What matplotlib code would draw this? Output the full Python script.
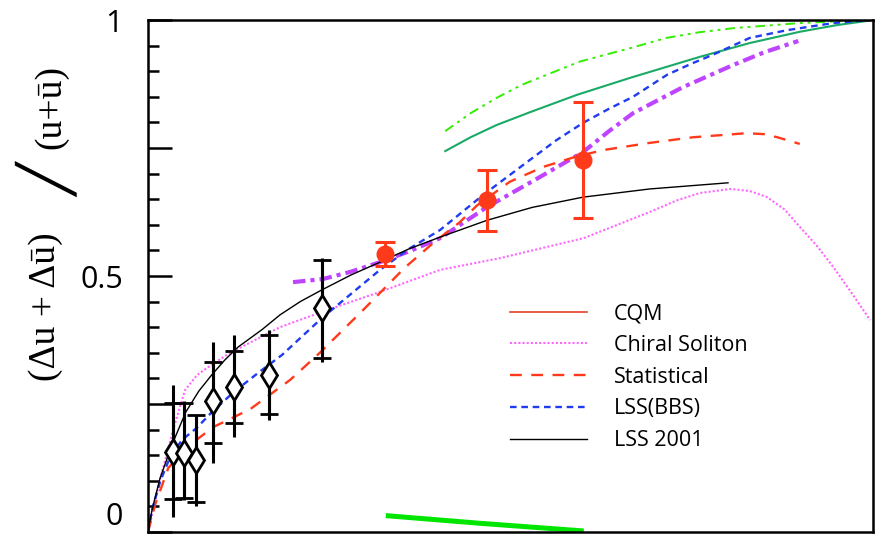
import numpy as np
import matplotlib
matplotlib.use("Agg")
import matplotlib.pyplot as plt
from matplotlib.lines import Line2D
from matplotlib.ticker import MultipleLocator

# ---- data (x in [0,1], ratio in [0,1]) ----
# HERMES-like points: value, inner (stat) error ends, outer (total) error ends
herm_x = [0.035, 0.049, 0.066, 0.089, 0.118, 0.167, 0.240]
herm_y = [0.157, 0.154, 0.141, 0.256, 0.283, 0.307, 0.4375]
herm_in_hi = [0.252, 0.252, 0.229, 0.332, 0.354, 0.385, 0.531]
herm_in_lo = [0.064, 0.066, 0.059, 0.174, 0.213, 0.230, 0.340]
herm_out_hi = [0.287, 0.256, 0.229, 0.371, 0.385, 0.395, 0.535]
herm_out_lo = [0.029, 0.062, 0.051, 0.135, 0.186, 0.219, 0.332]

# projected points
proj_x = [0.327, 0.467, 0.600]
proj_y = [0.542, 0.648, 0.727]
proj_hi = [0.567, 0.707, 0.840]
proj_lo = [0.520, 0.588, 0.613]

lss01_x = [0, 0.0055, 0.0166, 0.033, 0.052, 0.070, 0.088, 0.106, 0.124, 0.157,
           0.182, 0.210, 0.240, 0.280, 0.320, 0.360, 0.403, 0.468, 0.530, 0.600,
           0.692, 0.800]
lss01_y = [0, 0.043, 0.105, 0.170, 0.234, 0.275, 0.307, 0.336, 0.361, 0.395,
           0.424, 0.450, 0.473, 0.502, 0.527, 0.553, 0.576, 0.609, 0.634, 0.654,
           0.670, 0.682]

chiral_x = [0, 0.003, 0.0166, 0.0345, 0.051, 0.068, 0.087, 0.110, 0.134, 0.182,
            0.240, 0.320, 0.403, 0.486, 0.601, 0.692, 0.730, 0.761, 0.803, 0.830,
            0.854, 0.878, 0.899, 0.922, 0.945, 0.970, 0.996]
chiral_y = [0, 0.018, 0.102, 0.199, 0.277, 0.307, 0.326, 0.347, 0.365, 0.400,
            0.430, 0.469, 0.512, 0.535, 0.574, 0.625, 0.648, 0.662, 0.670, 0.666,
            0.654, 0.630, 0.596, 0.560, 0.518, 0.468, 0.414]

stat_x = [0, 0.0097, 0.028, 0.054, 0.090, 0.115, 0.141, 0.168, 0.196, 0.237,
          0.297, 0.354, 0.393, 0.430, 0.454, 0.499, 0.545, 0.590, 0.628, 0.692,
          0.752, 0.826, 0.850, 0.868, 0.899]
stat_y = [0, 0.053, 0.125, 0.166, 0.205, 0.222, 0.240, 0.268, 0.297, 0.350,
          0.434, 0.516, 0.564, 0.605, 0.638, 0.684, 0.713, 0.733, 0.746, 0.760,
          0.771, 0.779, 0.777, 0.771, 0.758]

bbs_x = [0, 0.0055, 0.0166, 0.030, 0.047, 0.067, 0.088, 0.118, 0.154, 0.185,
         0.240, 0.280, 0.320, 0.360, 0.403, 0.462, 0.527, 0.563, 0.600, 0.635,
         0.669, 0.716, 0.750, 0.779, 0.830, 0.881, 0.945, 0.996]
bbs_y = [0, 0.043, 0.098, 0.145, 0.180, 0.203, 0.234, 0.273, 0.313, 0.346,
         0.418, 0.465, 0.512, 0.553, 0.590, 0.658, 0.727, 0.765, 0.799, 0.826,
         0.850, 0.893, 0.915, 0.932, 0.965, 0.980, 0.994, 1.0]

green_x = [0.410, 0.445, 0.481, 0.527, 0.592, 0.665, 0.761, 0.830, 0.899, 0.950, 0.996]
green_y = [0.744, 0.771, 0.795, 0.820, 0.854, 0.887, 0.928, 0.955, 0.977, 0.990, 0.999]

lime_x = [0.410, 0.445, 0.481, 0.515, 0.550, 0.596, 0.665, 0.715, 0.760, 0.807, 0.899, 0.990]
lime_y = [0.783, 0.818, 0.848, 0.873, 0.893, 0.919, 0.945, 0.965, 0.976, 0.984, 0.994, 1.0]

purple_x = [0.200, 0.241, 0.279, 0.320, 0.360, 0.403, 0.468, 0.534, 0.600, 0.635,
            0.669, 0.738, 0.807, 0.850, 0.897]
purple_y = [0.488, 0.494, 0.508, 0.527, 0.548, 0.574, 0.635, 0.688, 0.742, 0.782,
            0.818, 0.869, 0.912, 0.937, 0.959]

bgreen_x = [0.328, 0.458, 0.601]
bgreen_y = [0.032, 0.017, 0.002]

legend_labels = ["CQM", "Chiral Soliton", "Statistical", "LSS(BBS)", "LSS 2001"]

RED = "#ff3a1a"
PINK = "#ff66ff"
BLUE = "#1f3cf0"

fig = plt.figure(figsize=(8.82, 5.35), dpi=100)
ax = fig.add_axes([148 / 882, 3 / 535, 725 / 882, 512 / 535])

ax.plot(lime_x, lime_y, color="#33ee00", lw=1.4, dashes=(5, 2.5, 1.5, 2.5, 1.5, 2.5))
ax.plot(green_x, green_y, color="#1aaa66", lw=1.5)
ax.plot(purple_x, purple_y, color="#bf44ff", lw=3.0, dashes=(3, 1.2, 1, 1.2))
ax.plot(bgreen_x, bgreen_y, color="#00e600", lw=3.6, solid_capstyle="butt")
ax.plot(chiral_x, chiral_y, color=PINK, lw=1.5, ls=(0, (1, 1)))
ax.plot(stat_x, stat_y, color=RED, lw=1.7, dashes=(5, 4))
ax.plot(bbs_x, bbs_y, color=BLUE, lw=1.7, dashes=(2.8, 2))
ax.plot(lss01_x, lss01_y, color="black", lw=1.0)

# HERMES points: outer error as bare line, inner error with caps
hy = np.array(herm_y)
ax.errorbar(herm_x, herm_y,
            yerr=[hy - np.array(herm_out_lo), np.array(herm_out_hi) - hy],
            fmt="none", ecolor="black", elinewidth=2.2, capsize=0)
ax.errorbar(herm_x, herm_y,
            yerr=[hy - np.array(herm_in_lo), np.array(herm_in_hi) - hy],
            fmt="d", color="black", mfc="white", mec="black", mew=2.0, ms=13,
            ecolor="black", elinewidth=2.2, capsize=6.5, capthick=2.2, zorder=5)

py_ = np.array(proj_y)
ax.errorbar(proj_x, proj_y,
            yerr=[py_ - np.array(proj_lo), np.array(proj_hi) - py_],
            fmt="o", color=RED, ms=12, ecolor=RED, elinewidth=2.2,
            capsize=7.5, capthick=2.2, zorder=6)

ax.set_xlim(0, 1)
ax.set_ylim(0, 1)
ax.set_xticks([])
ax.set_yticks([0, 0.25, 0.5, 0.75, 1.0], labels=["0", "", "0.5", "", "1"])
ax.yaxis.set_minor_locator(MultipleLocator(0.05))
ax.tick_params(axis="y", which="major", direction="in", length=17, width=1.8,
               pad=18, labelsize=22)
ax.tick_params(axis="y", which="minor", direction="in", length=8, width=1.8)
for lab in ax.get_yticklabels():
    lab.set_fontfamily("Open Sans")
ax.yaxis.get_major_ticks()[0].label1.set_verticalalignment("bottom")
for sp in ax.spines.values():
    sp.set_linewidth(1.8)

handles = [
    Line2D([], [], color="#e8402a", lw=1.2),
    Line2D([], [], color=PINK, lw=1.5, ls=(0, (1, 1))),
    Line2D([], [], color=RED, lw=1.7, dashes=(5, 4)),
    Line2D([], [], color=BLUE, lw=1.7, dashes=(2.8, 2)),
    Line2D([], [], color="black", lw=1.0),
]
ax.legend(handles, legend_labels, loc="upper left",
          bbox_to_anchor=(0.499, 0.447), frameon=False, borderpad=0,
          borderaxespad=0, handlelength=3.6, handletextpad=1.25,
          labelspacing=0.5, prop={"family": "Open Sans", "size": 15.5})

# y label: (Δu + Δū) / (u+ū)
fig.text(46 / 882, 1 - 307 / 535, "(Δu + Δū)", rotation=90, ha="center",
         va="center", family="Liberation Serif", size=27)
fig.text(48 / 882, 1 - 181 / 535, "╱", rotation=90, ha="center",
         va="center", family="DejaVu Sans", size=38)
fig.text(51 / 882, 1 - 107 / 535, "(u+ū)", rotation=90, ha="center",
         va="center", family="Liberation Serif", size=27)

fig.savefig("out.png", dpi=100)
